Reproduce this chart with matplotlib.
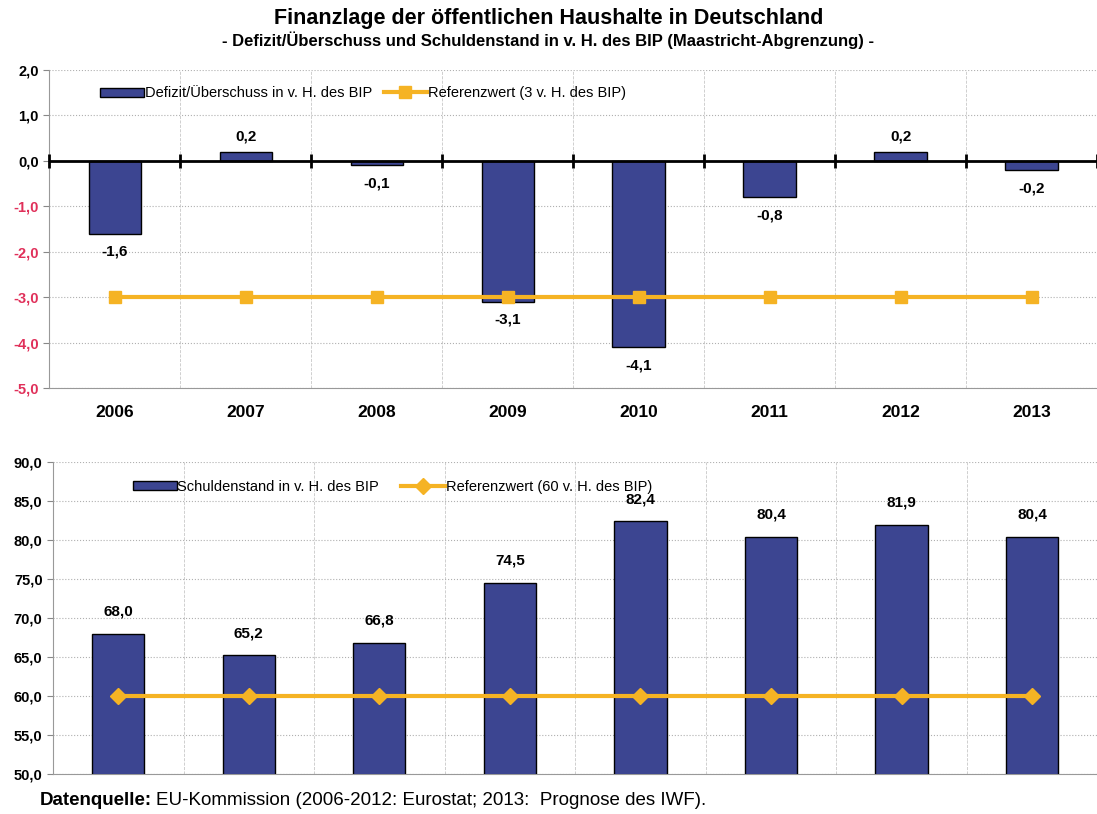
import numpy as np
import matplotlib.pyplot as plt

years = ['2006', '2007', '2008', '2009', '2010', '2011', '2012', '2013']
defizit = [-1.6, 0.2, -0.1, -3.1, -4.1, -0.8, 0.2, -0.2]
ref_defizit = [-3.0] * 8
schulden = [68.0, 65.2, 66.8, 74.5, 82.4, 80.4, 81.9, 80.4]
ref_schulden = [60.0] * 8

plt.rcParams['font.family'] = ['Liberation Sans', 'DejaVu Sans']

bar_col = '#3c4591'
ref_col = '#f5b324'
neg_col = '#e0305a'

def fmt(v):
    return f'{v:.1f}'.replace('.', ',')

fig = plt.figure(figsize=(10.97, 8.14), dpi=100)
fig.text(0.5, 0.977, 'Finanzlage der öffentlichen Haushalte in Deutschland',
         ha='center', va='center', fontsize=15.5, fontweight='bold')
fig.text(0.5, 0.950, '- Defizit/Überschuss und Schuldenstand in v. H. des BIP (Maastricht-Abgrenzung) -',
         ha='center', va='center', fontsize=12, fontweight='bold')

x = np.arange(len(years))
bounds = np.arange(len(years) + 1) - 0.5

# --- top chart: deficit
ax1 = fig.add_axes([0.045, 0.5233, 0.955, 0.3907])
b1 = ax1.bar(x, defizit, width=0.4, color=bar_col, edgecolor='black', linewidth=1,
             label='Defizit/Überschuss in v. H. des BIP', zorder=3)
l1, = ax1.plot(x, ref_defizit, color=ref_col, lw=3, marker='s', ms=9,
               label='Referenzwert (3 v. H. des BIP)', zorder=4)
ax1.axhline(0, color='black', lw=2, zorder=5)
ax1.plot(bounds, np.zeros(len(bounds)), ls='none', marker='|', ms=10, mew=2,
         color='black', zorder=5, clip_on=False)
for xi, v in zip(x, defizit):
    if v >= 0:
        ax1.annotate(fmt(v), (xi, v), xytext=(0, 6), textcoords='offset points',
                     ha='center', va='bottom', fontsize=11, fontweight='bold')
    else:
        ax1.annotate(fmt(v), (xi, v), xytext=(0, -8), textcoords='offset points',
                     ha='center', va='top', fontsize=11, fontweight='bold')
ax1.set_xlim(-0.5, 7.5)
ax1.set_ylim(-5, 2)
yt1 = np.arange(-5, 2.1, 1)
ax1.set_yticks(yt1)
ax1.set_yticklabels([fmt(t) for t in yt1], fontweight='bold', fontsize=10.5)
for lbl, t in zip(ax1.get_yticklabels(), yt1):
    if t < 0:
        lbl.set_color(neg_col)
ax1.set_xticks(x)
ax1.set_xticklabels(years, fontweight='bold', fontsize=12.5)
ax1.tick_params(axis='x', length=0, pad=12)
ax1.tick_params(axis='y', length=4, color='#888888')
ax1.set_xticks(bounds, minor=True)
ax1.tick_params(axis='x', which='minor', length=0)
ax1.grid(axis='y', color='#b0b0b0', ls=':', lw=0.8, zorder=0)
ax1.grid(axis='x', which='minor', color='#c8c8c8', ls='--', lw=0.6, zorder=0)
ax1.grid(axis='x', which='major', visible=False)
for s in ['top', 'right']:
    ax1.spines[s].set_visible(False)
for s in ['left', 'bottom']:
    ax1.spines[s].set_color('#999999')
    ax1.spines[s].set_linewidth(0.8)
ax1.legend([b1, l1], [b1.get_label(), l1.get_label()], loc='upper left',
           bbox_to_anchor=(0.036, 0.99), ncol=2, frameon=False,
           fontsize=10.5, handlelength=3.0, handleheight=0.6, handletextpad=0.05,
           columnspacing=0.8)

# --- bottom chart: debt
ax2 = fig.add_axes([0.0483, 0.0491, 0.952, 0.3833])
b2 = ax2.bar(x, schulden, width=0.4, color=bar_col, edgecolor='black', linewidth=1,
             label='Schuldenstand in v. H. des BIP', zorder=3)
l2, = ax2.plot(x, ref_schulden, color=ref_col, lw=3, marker='D', ms=8,
               label='Referenzwert (60 v. H. des BIP)', zorder=4)
for xi, v in zip(x, schulden):
    ax2.annotate(fmt(v), (xi, v), xytext=(0, 11), textcoords='offset points',
                 ha='center', va='bottom', fontsize=11, fontweight='bold')
ax2.set_xlim(-0.5, 7.5)
ax2.set_ylim(50, 90)
yt = np.arange(50, 90.1, 5)
ax2.set_yticks(yt)
ax2.set_yticklabels([fmt(t) for t in yt], fontweight='bold', fontsize=10.5)
ax2.set_xticks(bounds, minor=True)
ax2.set_xticks([])
ax2.tick_params(axis='x', which='minor', length=0)
ax2.tick_params(axis='y', length=4, color='#888888')
ax2.grid(axis='y', color='#b0b0b0', ls=':', lw=0.8, zorder=0)
ax2.grid(axis='x', which='minor', color='#c8c8c8', ls='--', lw=0.6, zorder=0)
for s in ['top', 'right']:
    ax2.spines[s].set_visible(False)
for s in ['left', 'bottom']:
    ax2.spines[s].set_color('#999999')
    ax2.spines[s].set_linewidth(0.8)
ax2.legend([b2, l2], [b2.get_label(), l2.get_label()], loc='upper left',
           bbox_to_anchor=(0.064, 0.985), ncol=2, frameon=False,
           fontsize=10.5, handlelength=3.0, handleheight=0.6, handletextpad=0.05,
           columnspacing=1.5)

fig.text(0.036, 0.016, 'Datenquelle:', fontsize=13.5, fontweight='bold', va='center')
fig.text(0.142, 0.016, 'EU-Kommission (2006-2012: Eurostat; 2013:  Prognose des IWF).',
         fontsize=13.5, va='center')

fig.savefig('out.png', dpi=100)
